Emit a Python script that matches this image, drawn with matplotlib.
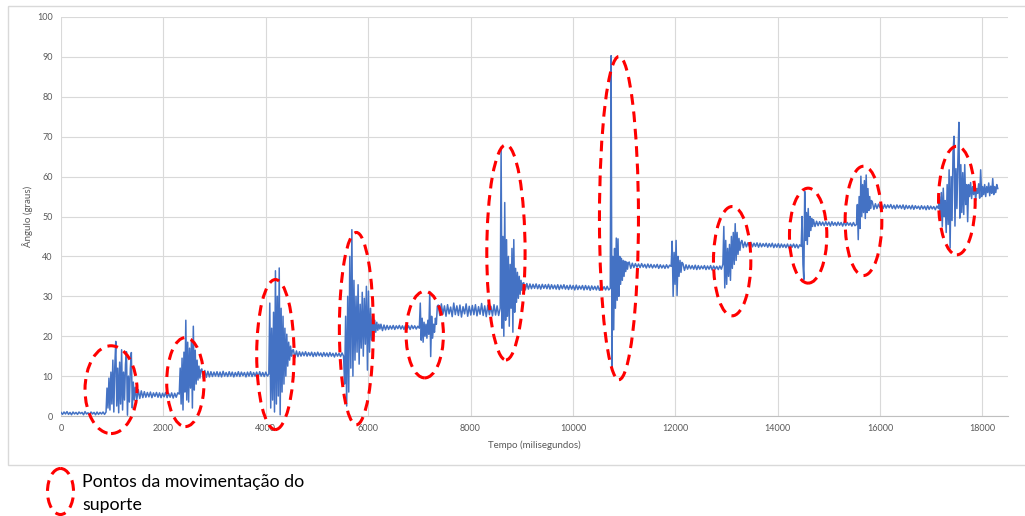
import numpy as np
import matplotlib
matplotlib.use("Agg")
import matplotlib.pyplot as plt
from matplotlib.patches import Ellipse, Rectangle

tempo_limites = [0, 880, 1450, 2310, 2750, 4060, 4540, 5520, 6250, 7000, 7370,
                 8580, 9040, 10730, 11100, 11920, 12150, 12930, 13300, 14460,
                 14700, 15540, 15850, 17140, 17750, 18300]

repouso_0 = [0.9, 0.4, 1.0, 0.5, 1.1, 0.4, 0.9, 0.3, 1.0, 0.5, 0.9, 0.4, 1.0, 0.6, 0.9,
             0.3, 1.1, 0.5, 0.8, 0.4, 1.0, 0.5, 0.9, 0.3, 1.0, 0.4, 0.9, 0.5, 1.0, 0.4]
mov_1 = [1.0, 7.0, 2.0, 9.5, 1.5, 11.0, 3.0, 14.0, 1.0, 12.5, 18.7, 2.5, 12.0, 0.8, 13.5,
         3.0, 16.6, 1.5, 11.0, 4.0, 13.0, 16.1, 0.2, 10.0, 3.5, 12.0, 15.9, 2.0, 8.5, 4.0]
repouso_1 = [7.2, 4.0, 6.6, 4.4, 6.3, 4.6, 6.1, 4.7, 5.9, 4.8, 6.0, 4.6, 5.8, 4.9, 5.9,
             4.7, 5.8, 4.6, 5.7, 4.8, 5.9, 4.6, 5.7, 4.7, 5.8, 4.5, 5.7, 4.7, 5.8]
mov_2 = [5.5, 12.0, 3.0, 14.5, 1.5, 16.0, 6.0, 24.0, 4.0, 18.5, 3.5, 17.0, 7.0, 19.0,
         2.0, 22.5, 6.5, 16.5, 8.0, 14.0, 9.0, 12.5, 9.5, 11.5]
repouso_2 = [11.8, 9.4, 11.4, 9.7, 11.2, 9.8, 11.1, 9.9, 11.0, 10.0, 11.1, 9.9, 11.0,
             9.8, 11.2, 10.0, 10.9, 9.9, 11.1, 10.0, 11.0, 9.8, 10.9, 10.0, 11.1, 9.9,
             11.0, 10.1, 10.9, 9.8, 11.0, 10.0, 11.1, 9.9, 10.9, 10.0, 11.0, 9.8, 11.1,
             10.0, 10.9, 9.9, 11.0, 10.0]
mov_3 = [10.5, 28.3, 2.0, 22.0, 4.0, 26.0, 1.0, 36.4, 3.0, 30.0, 5.0, 37.1, 0.3, 27.0,
         6.0, 25.0, 8.0, 22.0, 10.0, 20.5, 12.5, 18.5, 14.0, 17.5, 15.0, 16.5]
repouso_3 = [16.6, 14.6, 16.3, 14.9, 16.1, 15.0, 16.0, 15.1, 16.1, 15.0, 15.9, 15.1,
             16.0, 14.9, 15.9, 15.0, 16.0, 15.1, 15.8, 14.9, 15.9, 15.0, 15.8, 14.9,
             15.9, 15.0, 15.7, 14.8, 15.8, 15.0, 15.7, 14.9, 15.8]
mov_4 = [15.0, 8.0, 25.0, 2.5, 30.0, 6.0, 40.0, 12.0, 46.7, 10.0, 34.0, 14.0, 30.0, 16.0,
         32.9, 13.0, 28.0, 17.0, 31.0, 15.0, 29.5, 18.0, 32.5, 11.5, 31.3, 16.0, 27.0,
         19.0, 25.0, 20.0, 24.0, 21.0, 23.5, 21.5, 23.0, 21.8]
repouso_4 = [23.0, 21.4, 22.8, 21.6, 22.7, 21.7, 22.6, 21.8, 22.7, 21.7, 22.6, 21.9,
             22.7, 21.8, 22.6, 21.7, 22.7, 21.8, 22.6, 21.7, 22.7, 21.9, 22.6, 21.8, 22.5]
mov_5 = [22.0, 28.3, 19.0, 24.5, 18.5, 23.5, 20.0, 23.0, 19.5, 24.0, 20.5, 31.2, 14.9,
         25.0, 19.5, 23.0, 21.0, 24.5, 23.0, 27.5]
repouso_5 = [27.8, 25.2, 28.1, 25.5, 27.6, 25.0, 27.9, 25.6, 27.3, 24.9, 28.3, 25.4,
             27.6, 25.2, 27.8, 24.8, 27.4, 25.6, 28.1, 25.0, 27.5, 25.3, 27.7, 25.4,
             27.9, 25.1, 27.4, 25.5, 28.2, 25.2, 27.6, 24.9, 27.8, 25.4, 27.5, 25.1,
             27.9, 25.3, 27.6, 25.2]
mov_6 = [27.0, 67.4, 22.0, 45.0, 20.0, 53.5, 24.0, 44.2, 25.0, 40.0, 22.5, 38.0, 27.0,
         42.0, 21.0, 44.2, 26.0, 37.0, 28.5, 36.0, 29.5, 35.0, 30.5, 34.0, 31.5, 33.3]
repouso_6 = [33.4, 31.6, 33.2, 31.8, 33.1, 31.9, 33.0, 32.0, 33.1, 31.9, 32.9, 31.8,
             33.0, 32.0, 32.9, 31.9, 33.0, 31.8, 32.9, 31.9, 32.8, 31.8, 32.9, 31.7,
             32.8, 31.9, 32.9, 31.8, 32.7, 31.7, 32.8, 31.8, 32.7, 31.6, 32.8, 31.7,
             32.6, 31.8, 32.7, 31.6, 32.7, 31.7, 32.6, 31.5, 32.6, 31.7, 32.5, 31.6,
             32.6, 31.5, 32.5, 31.7, 32.4, 31.6, 32.5, 31.6]
mov_7 = [32.0, 90.3, 12.4, 40.0, 21.6, 42.0, 27.0, 44.6, 29.0, 44.4, 30.0, 40.0, 33.0,
         39.5, 34.0, 39.0, 35.0, 38.8, 36.2, 38.6, 36.8, 38.3]
repouso_7 = [38.6, 37.0, 38.3, 37.2, 38.2, 37.3, 38.1, 37.2, 38.2, 37.3, 38.0, 37.1,
             38.1, 37.2, 38.0, 37.1, 37.9, 37.2, 38.0, 37.0, 37.9, 37.1, 37.8, 37.0,
             37.9, 37.1, 37.8]
mov_8 = [37.5, 43.8, 30.0, 41.0, 33.0, 44.0, 30.2, 40.0, 35.0, 39.0, 36.0, 38.5]
repouso_7b = [38.2, 36.5, 37.9, 36.8, 37.8, 36.9, 37.7, 36.8, 37.8, 36.7, 37.7, 36.8,
              37.6, 36.9, 37.7, 36.7, 37.6, 36.8, 37.7, 36.6, 37.6, 36.8, 37.5, 36.7,
              37.6, 36.8]
mov_9 = [38.0, 47.5, 32.1, 44.0, 33.0, 42.0, 35.0, 43.0, 34.0, 45.0, 37.0, 46.0, 38.0,
         48.2, 39.0, 46.0, 40.5, 44.5, 41.5, 43.5]
repouso_8 = [44.0, 42.2, 43.6, 42.4, 43.4, 42.5, 43.5, 42.4, 43.3, 42.5, 43.4, 42.3,
             43.3, 42.4, 43.2, 42.5, 43.3, 42.3, 43.2, 42.4, 43.3, 42.2, 43.1, 42.3,
             43.2, 42.2, 43.1, 42.3, 43.0, 42.2, 43.1, 42.1, 43.0, 42.3, 43.1, 42.2,
             43.0, 42.1, 42.9]
mov_10 = [42.5, 50.0, 38.0, 34.2, 56.3, 44.0, 51.0, 43.0, 52.0, 45.0, 50.0, 46.5, 49.5, 47.5]
repouso_9 = [49.2, 47.5, 48.8, 47.7, 48.7, 47.8, 48.6, 47.7, 48.7, 47.8, 48.6, 47.6,
             48.7, 47.8, 48.5, 47.7, 48.6, 47.8, 48.5, 47.6, 48.6, 47.7, 48.5, 47.8,
             48.4, 47.6, 48.5, 47.7]
mov_11 = [48.0, 53.0, 44.2, 55.0, 47.0, 60.1, 50.0, 58.0, 51.0, 59.0, 49.5, 60.4, 51.0,
          57.0, 51.5, 55.0, 52.0, 54.0]
repouso_10 = [53.6, 51.8, 53.2, 52.0, 53.1, 52.2, 52.9, 52.0, 53.0, 52.1, 52.9, 52.2,
              53.0, 52.0, 52.8, 51.9, 52.9, 52.1, 52.8, 52.0, 52.9, 51.8, 52.8, 52.0,
              52.7, 51.9, 52.8, 51.8, 52.7, 52.0, 52.6, 51.8, 52.7, 51.9, 52.6, 51.7,
              52.7, 51.8, 52.6, 51.9, 52.5, 51.7, 52.6]
mov_12 = [52.0, 55.0, 49.0, 56.0, 47.5, 57.1, 50.0, 54.0, 46.0, 58.0, 48.0, 61.7, 42.1,
          60.0, 49.0, 66.0, 70.1, 47.6, 62.0, 52.0, 64.2, 73.6, 49.6, 63.0, 51.0, 61.0,
          50.5, 63.0, 53.0, 58.0, 48.7, 58.0]
repouso_11 = [55.0, 58.5, 54.5, 57.5, 55.5, 58.0, 54.0, 57.0, 55.8, 58.2, 54.6, 61.7,
              55.0, 57.5, 55.5, 58.0, 55.0, 57.5, 56.0, 58.4, 55.2, 57.6, 55.8, 59.5,
              55.5, 57.5, 56.0, 58.0]
angulo_final = 57.0

trechos = [repouso_0, mov_1, repouso_1, mov_2, repouso_2, mov_3, repouso_3, mov_4,
           repouso_4, mov_5, repouso_5, mov_6, repouso_6, mov_7, repouso_7, mov_8,
           repouso_7b, mov_9, repouso_8, mov_10, repouso_9, mov_11, repouso_10,
           mov_12, repouso_11]

# pontos da movimentacao do suporte: centro (ms, graus), largura (ms), altura (graus)
elipse_centros = [(977, 6.6), (2430, 8.5), (4188, 15.4), (5770, 21.9), (7106, 20.4),
                  (8692, 41.0), (10900, 49.6), (13111, 38.8), (14596, 45.2),
                  (15677, 48.9), (17501, 54.0)]
elipse_larguras = [1016, 730, 730, 664, 729, 748, 762, 730, 730, 717, 716]
elipse_alturas = [22.0, 22.3, 37.6, 48.2, 21.7, 53.9, 81.0, 27.4, 23.8, 27.4, 27.2]

tempo = []
angulo = []
for i, vals in enumerate(trechos):
    t = np.linspace(tempo_limites[i], tempo_limites[i + 1], len(vals), endpoint=False)
    tempo.extend(t)
    angulo.extend(vals)
tempo.append(tempo_limites[-1])
angulo.append(angulo_final)

W, H = 1025, 516
fig = plt.figure(figsize=(W / 100, H / 100), dpi=100)

# fundo: moldura do grafico e legenda
bg = fig.add_axes([0, 0, 1, 1])
bg.set_xlim(0, W)
bg.set_ylim(H, 0)
bg.axis('off')
bg.add_patch(Rectangle((8, 6), 1040, 459, fill=False, edgecolor='#D9D9D9', lw=1.0))
bg.add_patch(Ellipse((60.5, 491.5), 26, 46, fill=False, edgecolor='#FF0000', lw=2.2,
                     linestyle=(0, (3.5, 2.2))))
bg.text(82, 482, 'Pontos da movimentação do', fontsize=12.8, family='Lato',
        va='center', ha='left', color='black')
bg.text(82, 505, 'suporte', fontsize=12.8, family='Lato', va='center', ha='left', color='black')

ax = fig.add_axes([61 / W, 1 - 416 / H, (1008 - 61) / W, (416 - 17) / H])
ax.plot(tempo, angulo, color='#4472C4', lw=1.1, zorder=2)

for c, w, h in zip(elipse_centros, elipse_larguras, elipse_alturas):
    ax.add_patch(Ellipse(c, w, h, fill=False, edgecolor='#FF0000', lw=2.2,
                         linestyle=(0, (3.5, 2.2)), clip_on=False, zorder=3))

ax.set_xlim(0, 18500)
ax.set_ylim(0, 100)
ax.set_xticks(range(0, 18001, 2000))
ax.set_yticks(range(0, 101, 10))
ax.grid(True, color='#D9D9D9', lw=0.8, zorder=0)
ax.set_axisbelow(True)
for s in ['top', 'right', 'left']:
    ax.spines[s].set_visible(False)
ax.spines['bottom'].set_color('#BFBFBF')
ax.spines['bottom'].set_linewidth(0.8)
ax.tick_params(length=0, labelsize=6.5, labelcolor='#595959', pad=6)
for lab in ax.get_xticklabels() + ax.get_yticklabels():
    lab.set_family('Lato')
ax.set_xlabel('Tempo (milisegundos)', fontsize=7, color='#595959', family='Lato', labelpad=5)
ax.set_ylabel('Ângulo (graus)', fontsize=7, color='#595959', family='Lato', labelpad=3)

fig.savefig('out.png', dpi=100)
